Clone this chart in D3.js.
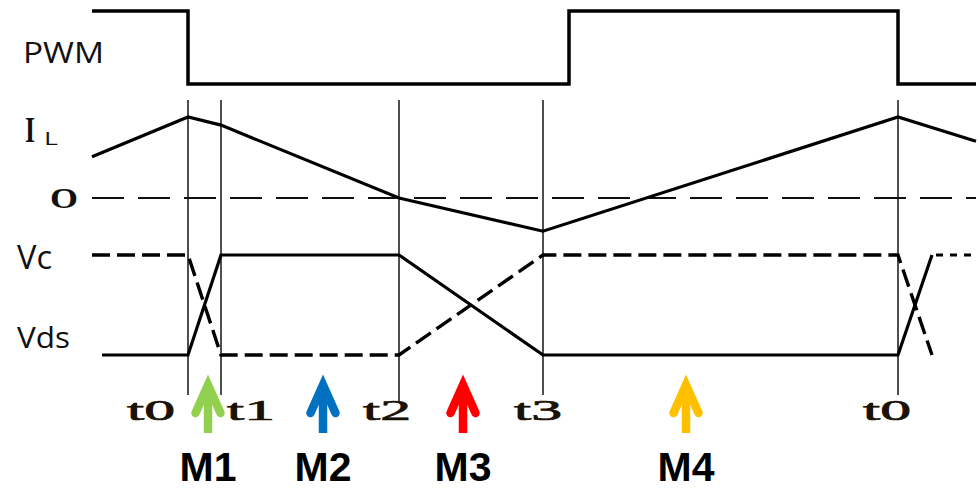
<!DOCTYPE html>
<html>
<head>
<meta charset="utf-8">
<script src="https://cdn.jsdelivr.net/npm/d3@7"></script>
<style>
  html, body { margin: 0; padding: 0; background: #fff; }
  svg { display: block; }
</style>
</head>
<body>
<svg id="chart" width="980" height="490"></svg>
<script>
// Switching-cycle time axis (normalised units, t0 = 0)
const timeDomain = [-0.96, 7.88];

// Switching instants and their labels
const eventLabels = ["t0", "t1", "t2", "t3", "t0"];
const eventTimes = [0, 0.33, 2.11, 3.55, 7.10];
const eventLabelTimes = [-0.37, 0.63, 1.99, 3.50, 6.99];

// Gate PWM signal (1 = on, 0 = off)
const pwmTimes = [-0.96, 0, 0, 3.81, 3.81, 7.10, 7.10, 7.88];
const pwmLevels = [1, 1, 0, 0, 1, 1, 0, 0];

// Inductor current, normalised to its peak
const ilTimes = [-0.96, 0, 0.33, 2.11, 3.55, 7.10, 7.88];
const ilValues = [0.51, 1.0, 0.90, 0, -0.41, 1.0, 0.70];

// Capacitor voltage Vc (dashed) and drain-source voltage Vds (solid)
const vcTimes = [-0.96, 0, 0.33, 2.11, 3.55, 7.10, 7.44];
const vcLevels = [1, 1, 0, 0, 1, 1, 0];
const vdsTimes = [-0.86, 0, 0.33, 2.11, 3.55, 7.10, 7.44];
const vdsLevels = [0, 0, 1, 1, 0, 0, 1];
const tailTimes = [7.48, 7.88];
const tailLevels = [1, 1];

// Operating modes
const modeLabels = ["M1", "M2", "M3", "M4"];
const modeTimes = [0.20, 1.35, 2.75, 4.98];
const modeColors = ["#92D050", "#0070C0", "#FF0000", "#FFC000"];

const svg = d3.select("#chart");
svg.append("rect").attr("width", 980).attr("height", 490).attr("fill", "#fff");

const x = d3.scaleLinear().domain(timeDomain).range([92, 976]);
const yPwm = d3.scaleLinear().domain([0, 1]).range([84, 11]);
const yIl = d3.scaleLinear().domain([0, 1]).range([198, 117]);
const yV = d3.scaleLinear().domain([0, 1]).range([355, 255]);

const zip = (ts, vs) => ts.map((t, i) => [t, vs[i]]);
const lineFor = yScale => d3.line().x(d => x(d[0])).y(d => yScale(d[1]));

// Vertical guides at the switching instants
svg.append("g").selectAll("line")
  .data(eventTimes)
  .join("line")
  .attr("x1", d => x(d)).attr("x2", d => x(d))
  .attr("y1", 100)
  .attr("y2", (d, i) => i === 2 ? 403 : 395)
  .attr("stroke", "#222")
  .attr("stroke-width", 1.6);

// Zero reference for the inductor current
svg.append("line")
  .attr("x1", x(timeDomain[0])).attr("x2", x(timeDomain[1]))
  .attr("y1", yIl(0)).attr("y2", yIl(0))
  .attr("stroke", "#111")
  .attr("stroke-width", 2)
  .attr("stroke-dasharray", "32,14");

// PWM
svg.append("path")
  .datum(zip(pwmTimes, pwmLevels))
  .attr("d", lineFor(yPwm))
  .attr("fill", "none")
  .attr("stroke", "#000")
  .attr("stroke-width", 3.5)
  .attr("stroke-linejoin", "miter");

// Inductor current
svg.append("path")
  .datum(zip(ilTimes, ilValues))
  .attr("d", lineFor(yIl))
  .attr("fill", "none")
  .attr("stroke", "#000")
  .attr("stroke-width", 3.2);

// Vds (solid)
svg.append("path")
  .datum(zip(vdsTimes, vdsLevels))
  .attr("d", lineFor(yV))
  .attr("fill", "none")
  .attr("stroke", "#000")
  .attr("stroke-width", 3.2);

// Vc (dashed)
svg.append("path")
  .datum(zip(vcTimes, vcLevels))
  .attr("d", lineFor(yV))
  .attr("fill", "none")
  .attr("stroke", "#000")
  .attr("stroke-width", 3.4)
  .attr("stroke-dasharray", "18,7");

// Continuation beyond the next cycle start (dotted)
svg.append("path")
  .datum(zip(tailTimes, tailLevels))
  .attr("d", lineFor(yV))
  .attr("fill", "none")
  .attr("stroke", "#000")
  .attr("stroke-width", 3)
  .attr("stroke-dasharray", "7,7");

// Signal names
const names = [
  { text: "PWM", x: 23, y: 63, size: 29, len: 81, family: "'Open Sans', sans-serif", weight: 400 },
  { text: "I", x: 25, y: 142, size: 36, len: 10, family: "'Liberation Serif', serif", weight: 700 },
  { text: "L", x: 44, y: 145, size: 18, len: 14, family: "'Open Sans', sans-serif", weight: 400 },
  { text: "O", x: 50, y: 208, size: 29, len: 28, family: "'Liberation Serif', serif", weight: 700 },
  { text: "Vc", x: 17, y: 269, size: 32, len: 35, family: "'Open Sans', sans-serif", weight: 400 },
  { text: "Vds", x: 17, y: 348, size: 30, len: 53, family: "'Open Sans', sans-serif", weight: 400 }
];
svg.append("g").selectAll("text")
  .data(names)
  .join("text")
  .attr("x", d => d.x).attr("y", d => d.y)
  .attr("font-family", d => d.family)
  .attr("font-weight", d => d.weight)
  .attr("font-size", d => d.size)
  .attr("textLength", d => d.len)
  .attr("lengthAdjust", "spacingAndGlyphs")
  .attr("fill", "#111")
  .text(d => d.text);

// Instant labels under the guides
svg.append("g").selectAll("text")
  .data(eventLabels)
  .join("text")
  .attr("x", (d, i) => x(eventLabelTimes[i]))
  .attr("y", 420)
  .attr("text-anchor", "middle")
  .attr("font-family", "'Liberation Serif', serif")
  .attr("font-weight", 400)
  .attr("font-size", 29)
  .attr("textLength", 48)
  .attr("lengthAdjust", "spacingAndGlyphs")
  .attr("fill", "#1b1206")
  .attr("stroke", "#1b1206")
  .attr("stroke-width", 0.7)
  .text(d => d);

// Mode arrows
const arrows = svg.append("g").selectAll("g")
  .data(modeLabels)
  .join("g")
  .attr("transform", (d, i) => `translate(${x(modeTimes[i])},0)`);

arrows.append("line")
  .attr("x1", 0).attr("x2", 0)
  .attr("y1", 390).attr("y2", 433)
  .attr("stroke", (d, i) => modeColors[i])
  .attr("stroke-width", 8.5);

arrows.append("polyline")
  .attr("points", "-12.5,413 0,385 12.5,413")
  .attr("fill", "none")
  .attr("stroke", (d, i) => modeColors[i])
  .attr("stroke-width", 8.5)
  .attr("stroke-linecap", "round")
  .attr("stroke-linejoin", "miter");

// Mode names
svg.append("g").selectAll("text")
  .data(modeLabels)
  .join("text")
  .attr("x", (d, i) => x(modeTimes[i]))
  .attr("y", 481)
  .attr("text-anchor", "middle")
  .attr("font-family", "'Liberation Sans', Arial, sans-serif")
  .attr("font-weight", 700)
  .attr("font-size", 41)
  .attr("fill", "#000")
  .text(d => d);
</script>
</body>
</html>
